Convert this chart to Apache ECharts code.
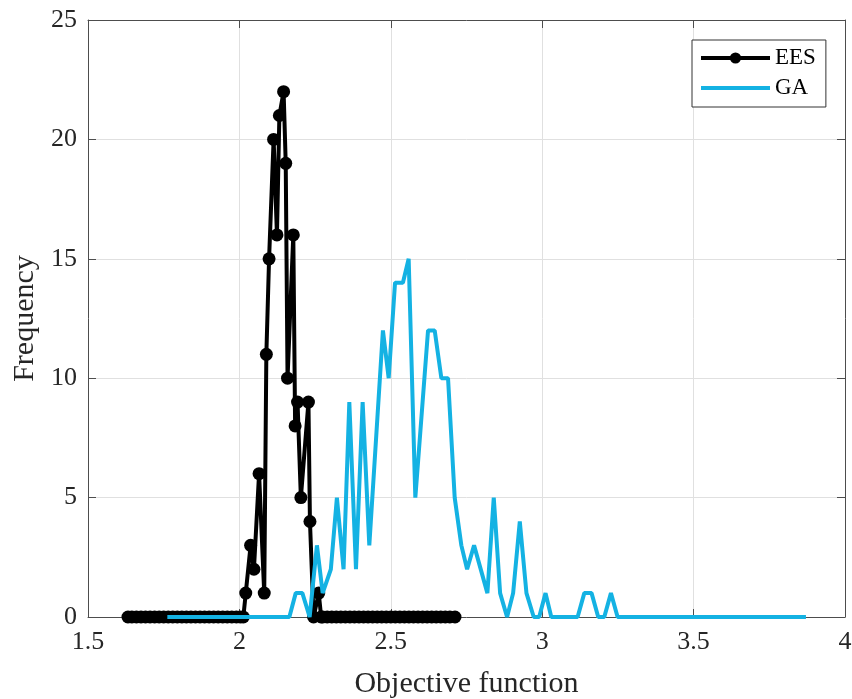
<!DOCTYPE html>
<html>
<head>
<meta charset="utf-8">
<script src="https://cdn.jsdelivr.net/npm/echarts@6/dist/echarts.min.js"></script>
<style>
  html, body { margin: 0; padding: 0; background: #fff; }
  #chart { width: 852px; height: 699px; }
</style>
</head>
<body>
<div id="chart"></div>
<script>
// x ticks and y ticks
const xTicks = [1.5, 2, 2.5, 3, 3.5, 4]
const yTicks = [0, 5, 10, 15, 20, 25]

// EES histogram (bin centre, count)
const eesX = [
  1.632, 1.645, 1.66, 1.675, 1.69, 1.705, 1.72, 1.735, 1.75, 1.765, 1.78, 1.795, 1.81, 1.825,
  1.84, 1.855, 1.87, 1.885, 1.90, 1.915, 1.93, 1.945, 1.96, 1.975, 1.99, 2.003, 2.013,
  2.021, 2.037, 2.048, 2.065, 2.082, 2.089, 2.098, 2.113, 2.124, 2.132, 2.146, 2.153, 2.159,
  2.178, 2.184, 2.192, 2.203, 2.228, 2.233, 2.245, 2.262, 2.27,
  2.275, 2.29, 2.305, 2.32, 2.335, 2.35, 2.365, 2.38, 2.395, 2.41, 2.425, 2.44, 2.455, 2.47,
  2.485, 2.5, 2.515, 2.53, 2.545, 2.56, 2.575, 2.59, 2.605, 2.62, 2.635, 2.65, 2.665, 2.68,
  2.695, 2.712
]
const eesY = [
  0, 0, 0, 0, 0, 0, 0, 0, 0, 0, 0, 0, 0, 0,
  0, 0, 0, 0, 0, 0, 0, 0, 0, 0, 0, 0, 0,
  1, 3, 2, 6, 1, 11, 15, 20, 16, 21, 22, 19, 10,
  16, 8, 9, 5, 9, 4, 0, 1, 0,
  0, 0, 0, 0, 0, 0, 0, 0, 0, 0, 0, 0, 0, 0,
  0, 0, 0, 0, 0, 0, 0, 0, 0, 0, 0, 0, 0, 0,
  0, 0
]

// GA histogram (bin centre, count)
const gaX = [
  1.762, 2.165, 2.186, 2.208, 2.232, 2.256, 2.275, 2.302, 2.322, 2.344, 2.363, 2.385, 2.407,
  2.429, 2.474, 2.493, 2.514, 2.540, 2.559, 2.581, 2.623, 2.645, 2.667, 2.689, 2.711, 2.733,
  2.752, 2.775, 2.819, 2.840, 2.861, 2.884, 2.904, 2.926, 2.948, 2.972, 2.990, 3.011, 3.030,
  3.117, 3.139, 3.163, 3.185, 3.205, 3.227, 3.249, 3.871
]
const gaY = [
  0, 0, 1, 1, 0, 3, 1, 2, 5, 2, 9, 2, 9,
  3, 12, 10, 14, 14, 15, 5, 12, 12, 10, 10, 5, 3,
  2, 3, 1, 5, 1, 0, 1, 4, 1, 0, 0, 1, 0,
  0, 1, 1, 0, 0, 1, 0, 0
]

const serif = 'Liberation Serif'
const axisColor = '#4d4d4d'
const textColor = '#262626'
const gaColor = '#14b2e3'

const chart = echarts.init(document.getElementById('chart'))

const zip = (xs, ys) => xs.map((x, i) => [x, ys[i]])

const baseX = {
  type: 'value',
  min: xTicks[0],
  max: xTicks[xTicks.length - 1],
  interval: 0.5,
  axisLine: { show: true, onZero: false, lineStyle: { color: axisColor, width: 1 } },
  axisTick: { show: true, inside: true, length: 8, lineStyle: { color: axisColor } }
}
const baseY = {
  type: 'value',
  min: yTicks[0],
  max: yTicks[yTicks.length - 1],
  interval: 5,
  axisLine: { show: true, onZero: false, lineStyle: { color: axisColor, width: 1 } },
  axisTick: { show: true, inside: true, length: 8, lineStyle: { color: axisColor } }
}

chart.setOption({
  animation: false,
  backgroundColor: '#fff',
  grid: { left: 88, right: 7, top: 20, bottom: 82, outerBoundsMode: 'none' },
  legend: {
    orient: 'vertical',
    left: 692,
    top: 40,
    data: [
      { name: 'EES', lineStyle: { width: 4 } },
      { name: 'GA', itemStyle: { opacity: 0 }, lineStyle: { width: 4, color: gaColor } }
    ],
    itemWidth: 69,
    itemHeight: 14,
    itemGap: 6,
    padding: [6, 10, 7, 7],
    backgroundColor: '#fff',
    borderColor: '#333',
    borderWidth: 1,
    borderRadius: 0,
    textStyle: { fontFamily: serif, fontSize: 23, color: '#000', lineHeight: 24 }
  },
  xAxis: [
    Object.assign({}, baseX, {
      position: 'bottom',
      axisLabel: { fontFamily: serif, fontSize: 26, color: textColor, margin: 12 },
      splitLine: { show: true, lineStyle: { color: '#e0e0e0', width: 1 } },
      name: 'Objective function',
      nameLocation: 'middle',
      nameGap: 52,
      nameTextStyle: { fontFamily: serif, fontSize: 30, color: textColor }
    }),
    Object.assign({}, baseX, {
      position: 'top',
      axisLabel: { show: false },
      splitLine: { show: false }
    })
  ],
  yAxis: [
    Object.assign({}, baseY, {
      position: 'left',
      axisLabel: { fontFamily: serif, fontSize: 26, color: textColor, margin: 11 },
      splitLine: { show: true, lineStyle: { color: '#e0e0e0', width: 1 } },
      name: 'Frequency',
      nameLocation: 'middle',
      nameGap: 39,
      nameTextStyle: { fontFamily: serif, fontSize: 30, color: textColor }
    }),
    Object.assign({}, baseY, {
      position: 'right',
      axisLabel: { show: false },
      splitLine: { show: false }
    })
  ],
  series: [
    {
      name: 'EES',
      type: 'line',
      data: zip(eesX, eesY),
      symbol: 'circle',
      symbolSize: 13,
      showAllSymbol: true,
      sampling: 'none',
      lineStyle: { color: '#000', width: 4 },
      itemStyle: { color: '#000' },
      z: 2
    },
    {
      name: 'GA',
      type: 'line',
      data: zip(gaX, gaY),
      symbol: 'none',
      sampling: 'none',
      lineStyle: { color: gaColor, width: 4 },
      itemStyle: { color: gaColor },
      z: 3
    }
  ]
})
</script>
</body>
</html>
